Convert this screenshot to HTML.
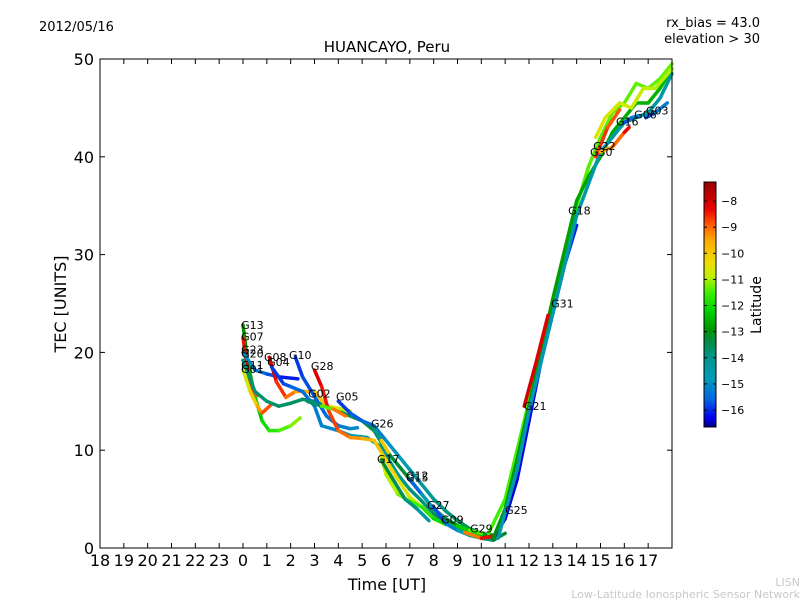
<!DOCTYPE html>
<html><head><meta charset="utf-8"><style>
body{margin:0;background:#fff;font-family:"Liberation Sans","DejaVu Sans",sans-serif}
svg text{font-family:"DejaVu Sans","Liberation Sans",sans-serif}
</style></head><body>
<svg id="chart" width="800" height="600" viewBox="0 0 800 600" xmlns="http://www.w3.org/2000/svg">
<rect width="800" height="600" fill="#fff"/>
<text x="39" y="31" font-size="13">2012/05/16</text>
<text x="387" y="52" font-size="15" text-anchor="middle">HUANCAYO, Peru</text>
<text x="760" y="27" font-size="13" text-anchor="end">rx_bias = 43.0</text>
<text x="760" y="43" font-size="13" text-anchor="end">elevation &gt; 30</text>
<text x="66" y="304" font-size="16" text-anchor="middle" transform="rotate(-90 66 304)">TEC [UNITS]</text>
<text x="387" y="590" font-size="16" text-anchor="middle">Time [UT]</text>
<text x="800" y="586" font-size="11" fill="#c8c8c8" text-anchor="end">LISN</text>
<text x="800" y="598" font-size="11" fill="#c8c8c8" text-anchor="end">Low-Latitude Ionospheric Sensor Network</text>
<defs><linearGradient id="cmap" x1="0" y1="1" x2="0" y2="0"></linearGradient></defs>
<g id="plot"></g>
</svg>
<script>
const categoriesHours=["18","19","20","21","22","23","0","1","2","3","4","5","6","7","8","9","10","11","12","13","14","15","16","17"];
const yTicks=[0,10,20,30,40,50];
const cbTicks=[-8,-9,-10,-11,-12,-13,-14,-15,-16];
const latMin=-16.65, latMax=-7.27;
const trackNames=["A","B","C","D","E","G08","G04","G10","G28","G02","G05","G26","G17","G12","Gdec","G27","G09","G25","R1","R2","R3","R4","R5","G22","G16","G06","Y1"];
const trackPoints=[
[[0,22.8],[0.2,19],[0.5,15.5],[0.8,13],[1.1,12],[1.5,12],[2,12.5],[2.4,13.3]],
[[0,21.5],[0.2,18],[0.4,16],[0.6,15.6]],
[[0,20],[0.5,18.2],[1,17.8],[1.5,17.5],[2.3,17.3]],
[[0,18.2],[0.3,16],[0.6,14.5],[0.8,13.8],[1.2,14.7]],
[[0,19.2],[0.5,16],[1,15],[1.5,14.5],[2,14.8],[2.5,15.2],[3,15],[3.5,14.5],[4,14],[4.5,13.5],[5,13],[5.5,12],[6,10],[6.5,8.5],[7,7],[7.5,5.5],[8,4],[8.5,3],[9,2.2],[9.5,1.8],[10,1.4]],
[[1.1,19.5],[1.4,17],[1.8,15.4],[2.2,16],[3,16],[3.5,14.5],[4,14.3],[4.5,14]],
[[1.2,18.5],[1.7,16.8],[2,16.5],[2.5,16],[3,14.5],[3.3,12.5],[4,12],[4.5,11.5],[5.2,11.3],[5.7,10.5],[6,9.5],[6.5,7.5],[7,6],[7.5,4.8],[8,3.5],[8.5,2.6],[9,2],[9.5,1.5],[10,1.2],[10.5,1]],
[[2.2,19.5],[2.5,17.5],[3,15.5],[3.5,13.5],[4,12.5],[4.5,12.2],[4.8,12.3]],
[[3,18.2],[3.3,16.5],[3.6,14],[4,12],[4.5,11.3],[5,11.2],[5.5,11],[6,9],[6.5,7],[7,5.2],[7.5,4.2],[8,3],[8.5,2.4]],
[[2.7,15],[3.3,14.5],[3.8,14.2],[4.3,13.5]],
[[4,15],[4.5,13.8],[5,13],[5.5,12.5],[6,11],[6.5,9.5],[7,8],[7.5,6.5],[8,5],[8.5,3.8],[9,2.8],[9.5,2],[10,1.5],[10.5,1.3]],
[[5.5,12.2],[5.8,11],[6.1,9.8]],
[[5.8,9.5],[6,7.5],[6.5,5.5],[7,4.8],[7.5,4.2],[8,3],[9,2],[10,1.3]],
[[7,7],[7.5,5.5],[8,4],[8.5,3],[9,2.3],[9.5,1.8],[10,1.5]],
[[5.8,9],[6.3,7],[6.8,5],[7.3,4],[7.8,2.8]],
[[8,4.2],[8.5,2.5],[9,1.8],[9.5,1.3],[10,1],[10.5,0.8],[11,1.5]],
[[9.3,1.6],[10,1],[10.5,1.2]],
[[10.5,1],[11,3],[11.5,7],[12,13],[12.5,19],[13,24],[13.5,29],[14,33]],
[[10.3,1.5],[11,5],[11.5,10],[12,15],[12.5,20],[13,25],[13.5,30],[14,35],[14.5,39],[15,42],[15.5,44.5],[16,45.5],[16.5,47.5],[17,47],[17.5,48],[18,49.5]],
[[10.5,1],[11,4],[11.5,9],[12,14.5],[12.5,20],[13,25.5],[13.5,30.5],[14,35.5],[14.5,38],[15,40],[15.5,42.5],[16,44],[16.5,45.5],[17,45.5],[17.5,47],[18,49]],
[[10.7,1],[11.5,8],[12,14],[13,24],[14,34],[15,40.5],[15.5,42],[16,43.5],[16.5,44],[17,44.5],[17.5,46],[18,48.5]],
[[11.8,14.5],[12.3,19],[12.8,23.8]],
[[14.8,40],[15.3,43],[15.8,44.8]],
[[15,40.5],[15.5,41],[16,42.5],[16.2,43]],
[[16,43.5],[16.3,44],[16.6,44.2]],
[[16.9,44],[17.3,44.5],[17.8,45.5]],
[[14.8,42],[15.2,44],[15.8,45.5],[16.3,45],[16.8,47],[17.3,47],[18,49]]
];
const trackLat=[[-13,-11],[-8.3,-9],[-14.8,-16.3],[-11,-8.5],[-13.8,-13],[-8,-11],[-16,-12.8],[-16,-15],[-8,-11.5],[-14.8,-8],[-16,-13],[-16,-8],[-10.5,-12.5],[-16,-11],[-13,-14.5],[-16,-13],[-9.5,-8],[-16.5,-16],[-11.5,-11.3],[-13,-12.5],[-14.6,-14.4],[-8,-8.2],[-8.5,-9],[-10,-8],[-16,-15],[-16,-15],[-10.5,-11]];
const labelNames=["G13","G07","G23","G20","G11","G01","G08","G04","G10","G28","G02","G05","G26","G17","G12","G15","G27","G09","G29","G25","G21","G31","G18","G22","G30","G16","G06","G03"];
const labelH=[-0.08,-0.08,-0.08,-0.08,-0.08,-0.08,0.88,1.01,1.93,2.85,2.73,3.9,5.37,5.62,6.84,6.84,7.72,8.31,9.53,11.0,11.79,12.93,13.64,14.69,14.56,15.65,16.41,16.91];
const labelV=[22.4,21.2,19.9,19.5,18.3,17.9,19.1,18.6,19.3,18.2,15.4,15.1,12.3,8.7,7.0,6.8,4.0,2.5,1.6,3.5,14.1,24.6,34.1,40.7,40.1,43.2,43.9,44.3];
// colormap stops: latitude -> color
const cmapLat=[-16.65,-16.3,-15.6,-14.8,-14,-13.3,-12.9,-12.2,-11.5,-10.9,-10.3,-9.5,-8.9,-8.3,-7.27];
const cmapCol=[[0,0,130],[0,0,240],[0,100,225],[0,155,185],[0,150,140],[0,140,60],[0,150,0],[0,210,0],[60,240,0],[190,240,0],[240,220,0],[255,170,0],[255,90,0],[235,0,0],[150,0,0]];

const L=100,R=672,T=59,B=548;
const xS=h=>L+(h+6)*(R-L)/24;
const yS=v=>B-v*(B-T)/50;
const NS="http://www.w3.org/2000/svg";
const g=document.getElementById('plot');
function mk(tag,attrs,parent){const e=document.createElementNS(NS,tag);for(const k in attrs)e.setAttribute(k,attrs[k]);(parent||g).appendChild(e);return e;}
function cmap(l){
  if(l<=cmapLat[0])return `rgb(${cmapCol[0]})`;
  for(let i=0;i<cmapLat.length-1;i++){
    if(l<=cmapLat[i+1]){const t=(l-cmapLat[i])/(cmapLat[i+1]-cmapLat[i]);
      const c=cmapCol[i].map((v,k)=>Math.round(v+(cmapCol[i+1][k]-v)*t));return `rgb(${c})`;}
  }
  return `rgb(${cmapCol[cmapCol.length-1]})`;
}
const grad=document.getElementById('cmap');
cmapLat.forEach((l,i)=>{mk('stop',{offset:(l-latMin)/(latMax-latMin),'stop-color':`rgb(${cmapCol[i]})`},grad);});
const latY=l=>182+(latMax-l)/(latMax-latMin)*(427-182);

trackPoints.forEach((pts,i)=>{
  const grp=mk('g',{});
  
  
  const n=pts.length-1;
  for(let j=0;j<n;j++){
    const lat=trackLat[i][0]+(trackLat[i][1]-trackLat[i][0])*(j+0.5)/n;
    const seg=mk('line',{x1:xS(pts[j][0]),y1:yS(pts[j][1]),x2:xS(pts[j+1][0]),y2:yS(pts[j+1][1]),stroke:cmap(lat),'stroke-width':3.5,'stroke-linecap':'round'},grp);
    
    
  }
});
labelNames.forEach((nm,i)=>{
  const t=mk('text',{x:xS(labelH[i]),y:yS(labelV[i]),'font-size':11});
  
  
  t.textContent=nm;
});
const fr=mk('rect',{x:L,y:T,width:R-L,height:B-T,fill:'none',stroke:'#000','stroke-width':1});


yTicks.forEach(v=>{
  const y=yS(v);
  mk('line',{x1:L,y1:y,x2:L+5,y2:y,stroke:'#000'});
  mk('line',{x1:R,y1:y,x2:R-5,y2:y,stroke:'#000'});
  const t=mk('text',{x:L-6,y:y+6,'font-size':16,'text-anchor':'end'});
  
  
  t.textContent=v;
});
categoriesHours.forEach((lab,i)=>{
  const x=xS(i-6);
  mk('line',{x1:x,y1:B,x2:x,y2:B-5,stroke:'#000'});
  mk('line',{x1:x,y1:T,x2:x,y2:T+5,stroke:'#000'});
  const t=mk('text',{x:x,y:B+18,'font-size':16,'text-anchor':'middle'});
  
  
  t.textContent=lab;
});
const cb=mk('rect',{x:704,y:182,width:12,height:245,fill:'url(#cmap)',stroke:'#000'});


cbTicks.forEach(v=>{
  const y=latY(v);
  mk('line',{x1:704,y1:y,x2:707,y2:y,stroke:'#000'});
  mk('line',{x1:716,y1:y,x2:713,y2:y,stroke:'#000'});
  const t=mk('text',{x:721,y:y+4,'font-size':11});
  
  
  t.textContent='\u2212'+Math.abs(v);
});
const lt=mk('text',{x:761,y:305,'font-size':14,'text-anchor':'middle',transform:'rotate(-90 761 305)'});


lt.textContent='Latitude';
</script>
</body></html>
